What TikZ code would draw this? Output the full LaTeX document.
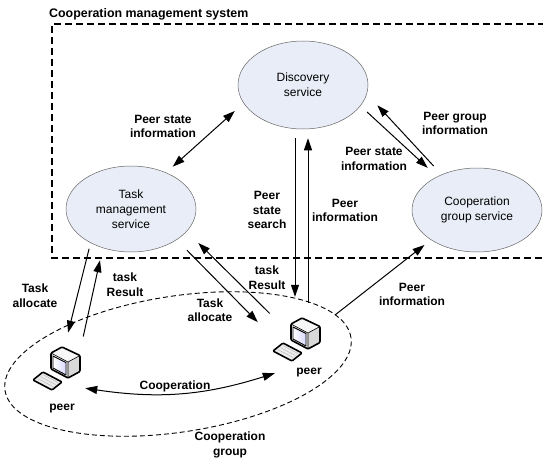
\documentclass[tikz,border=0pt]{standalone}
\usepackage{fontspec}
\setmainfont{Liberation Sans}
\usetikzlibrary{arrows.meta}
\usetikzlibrary{shapes.geometric}
\usetikzlibrary{positioning}
\usetikzlibrary{calc}

\definecolor{svcfill}{RGB}{233,237,247}

\tikzset{
  service/.style={draw=gray!80!black, line width=0.5pt, fill=svcfill, ellipse,
    minimum width=130pt, minimum height=86pt, inner sep=0pt, align=center,
    font=\fontsize{12}{15}\selectfont},
  lbl/.style={font=\bfseries\fontsize{12}{14.5}\selectfont, align=center, inner sep=0pt},
  link/.style={line width=1pt, -{Triangle[length=12pt,width=8pt]}},
  twoway/.style={line width=1pt, {Triangle[length=12pt,width=8pt]}-{Triangle[length=12pt,width=8pt]}},
  peerbox/.style={rectangle, minimum width=50pt, minimum height=47pt, inner sep=0pt},
}

% small workstation: keyboard + monitor, drawn round a point
\newcommand{\pcicon}[1]{%
  \begin{scope}[shift={(#1)}, line join=round]
    % keyboard
    \filldraw[fill=gray!15, line width=1.6pt, rounded corners=1pt]
      (-24,-12) -- (-14,-4) -- (5,-14) -- (-5,-22) -- cycle;
    \foreach \k in {0.3,0.55,0.8}
      \draw[gray!60, line width=0.4pt] (-24+10*\k+2,-12+8*\k-1) -- (-5+10*\k-2,-22+8*\k+1);
    % monitor faces
    \fill[gray!6] (-6,15) -- (5,21) -- (23,12.5) -- (11,6) -- cycle;
    \fill[gray!30] (11,6) -- (23,12.5) -- (23,-3.5) -- (11,-10) -- cycle;
    \fill[gray!12] (-6,15) -- (11,6) -- (11,-10) -- (-6,-1) -- cycle;
    \shade[left color=white, right color=blue!15] (-4,12) -- (9,5.5) -- (9,-7) -- (-4,0) -- cycle;
    \draw[line width=0.9pt] (-4,12) -- (9,5.5) -- (9,-7) -- (-4,0) -- cycle;
    \draw[line width=0.6pt] (-6,15) -- (11,6) -- (23,12.5) (11,6) -- (11,-10);
    \draw[line width=1.6pt, rounded corners=1pt]
      (-6,15) -- (5,21) -- (23,12.5) -- (23,-3.5) -- (11,-10) -- (-6,-1) -- cycle;
  \end{scope}}

\begin{document}
\begin{tikzpicture}[x=1pt, y=1pt]
\useasboundingbox (0,0) rectangle (543,459);

% system frame
\node[lbl, anchor=west, font=\bfseries\fontsize{12.4}{15}\selectfont] (title) at (49,445) {Cooperation management system};
\draw[line width=1.6pt, dash pattern=on 7pt off 4pt] (545,435) -- (52,435) -- (52,201) -- (545,201);

% services
\node[service, minimum height=88pt] (disc) at (303,374) {Discovery\\service};
\node[service] (task) at (131,250) {Task\\management\\service};
\node[service, minimum height=84pt] (coop) at (477,249) {Cooperation\\group service};

% peers and their group
\node[draw, ellipse, dash pattern=on 5pt off 3pt, line width=0.9pt, minimum width=350pt,
  minimum height=136pt, rotate=8.7] (grp) at (178,95) {};
\node[peerbox] (p1) at (57,91) {};
\node[peerbox] (p2) at (297,120) {};
\pcicon{p1.center}
\pcicon{p2.center}
\node[lbl, below=12pt of p1, xshift=5pt] (p1lab) {peer};
\node[lbl, below=5pt of p2, xshift=12pt] (p2lab) {peer};
\node[lbl] (grplab) at (230,14) {Cooperation\\group};

% labels
\node[lbl] at (163,332.5) {Peer state\\information};
\node[lbl] at (455,335.5) {Peer group\\information};
\node[lbl] at (374,300) {Peer state\\information};
\node[lbl] at (267,249) {Peer\\state\\search};
\node[lbl] at (345,248.5) {Peer\\information};
\node[lbl] at (35,163.5) {Task\\allocate};
\node[lbl] at (125,174.5) {task\\Result};
\node[lbl] at (267,181.5) {task\\Result};
\node[lbl] at (210,149) {Task\\allocate};
\node[lbl] at (412,164.5) {Peer\\information};
\node[lbl] at (175,73) {Cooperation};

% service links
\draw[twoway, shorten <=8.8pt, shorten >=11.7pt] (task.46) -- (disc.197);
\draw[link, shorten <=9pt, shorten >=12.8pt] (disc.340) -- (coop.140);
\draw[link, shorten <=11.6pt, shorten >=15.4pt] (coop.135) -- (disc.352);
\draw[link, shorten <=9pt, shorten >=18.5pt] ([xshift=-8pt]disc.south) -- ([xshift=-2pt]p2.north);
\draw[link, shorten <=12.5pt, shorten >=9pt] ([xshift=11pt]p2.north) -- ([xshift=5pt]disc.south);

% peer links
\draw[link, shorten <=6pt, shorten >=12pt] (task.220) -- (p1.71);
\draw[link, shorten <=8pt, shorten >=12.6pt] (p1.44) -- (task.234);
\draw[link, shorten <=14.6pt, shorten >=19.9pt] (task.326) -- (p2.174);
\draw[link, shorten <=3pt, shorten >=16.3pt] (p2.137) -- (task.338);
\draw[link, shorten <=16.5pt, shorten >=8.2pt] (p2.29) -- (coop.213);
\draw[twoway] ([xshift=3pt,yshift=3.5pt]p1.south east) to[bend right=13]
  ([xshift=3pt,yshift=-10.5pt]p2.south west);
\end{tikzpicture}
\end{document}
